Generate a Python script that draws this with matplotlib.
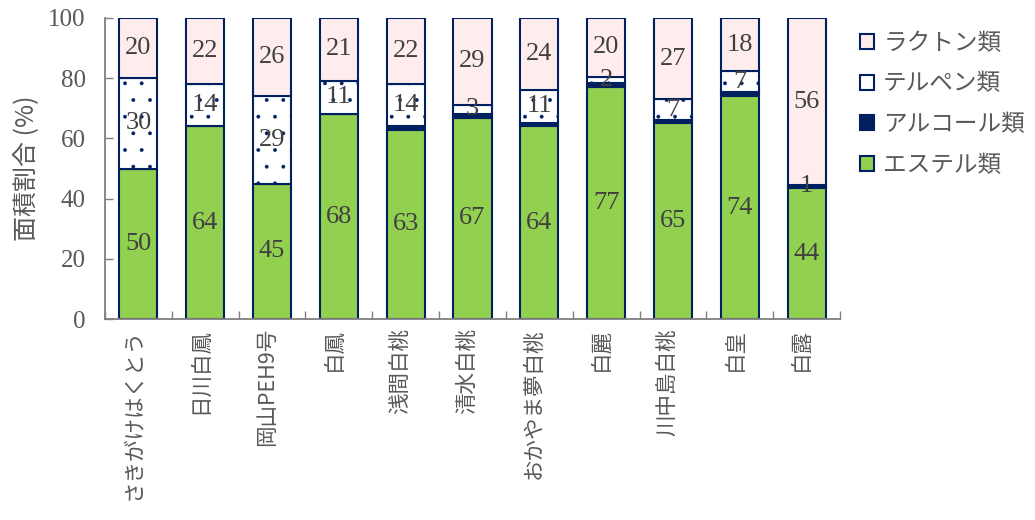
import matplotlib
matplotlib.use("Agg")
import matplotlib.pyplot as plt
from matplotlib.patches import Patch
import numpy as np

# data (area %, stacked bottom to top)
varieties = ['さきがけはくとう', '日川白鳳', '岡山PEH9号', '白鳳', '浅間白桃', '清水白桃',
             'おかやま夢白桃', '白麗', '川中島白桃', '白皇', '白露']
ester = [50, 64, 45, 68, 62.8, 66.8, 64, 77, 65, 74, 43.5]
alcohol = [0, 0, 0, 0.2, 1.2, 1.4, 1.2, 1.4, 1.0, 1.3, 0.4]
terpene = [30, 14, 29, 11, 14, 3, 11, 2, 7, 7, 0.6]
lactone = [20, 22, 26, 20.8, 22, 28.8, 23.8, 19.6, 27, 17.7, 55.5]
series_names = ['エステル類', 'アルコール類', 'テルペン類', 'ラクトン類']

NAVY = '#002060'
GREEN = '#92D050'
PINK = '#FFEDED'
TXT = '#404040'
SERIF = ['Liberation Serif', 'Noto Sans CJK JP']
CJK = ['Noto Sans CJK JP', 'DejaVu Sans']

plt.rcParams['hatch.color'] = '#2F4F8F'
plt.rcParams['hatch.linewidth'] = 0.3

fig = plt.figure(figsize=(10.35, 5.2), dpi=100)
ax = fig.add_axes([0.1014, 0.3865, 0.7102, 0.5789])

x = np.arange(len(varieties))
w = 0.57
ester = np.array(ester)
alcohol = np.array(alcohol)
terpene = np.array(terpene)
lactone = np.array(lactone)

ax.bar(x, ester, w, color=GREEN, edgecolor=NAVY, linewidth=1.5)
ax.bar(x, alcohol, w, bottom=ester, color=NAVY, edgecolor=NAVY, linewidth=1.5)
bottom3 = ester + alcohol
ax.bar(x, terpene, w, bottom=bottom3, color='white', edgecolor=NAVY,
       linewidth=1.5, hatch='.')
bottom4 = bottom3 + terpene
ax.bar(x, lactone, w, bottom=bottom4, color=PINK, edgecolor=NAVY, linewidth=1.5)

# value labels (alcohol is not labelled)
for vals, bots in [(ester, np.zeros(len(x))), (terpene, bottom3), (lactone, bottom4)]:
    for i in range(len(x)):
        if vals[i] <= 0:
            continue
        ax.text(x[i], bots[i] + vals[i] / 2, f'{vals[i]:.0f}', ha='center', va='center',
                fontsize=19, color=TXT, family=SERIF)

ax.set_xlim(-0.5, len(x) - 0.5)
ax.set_ylim(0, 100)
ax.set_yticks(np.arange(0, 101, 20))
ax.set_yticklabels([str(v) for v in range(0, 101, 20)], family=SERIF, fontsize=18, color='#595959')
ax.set_xticks(np.arange(-0.5, len(x), 1.0))
ax.set_xticklabels([])
ax.tick_params(axis='both', direction='in', color='#808080', length=6, width=1)
ax.tick_params(axis='y', pad=14)
for s in ['top', 'right']:
    ax.spines[s].set_visible(False)
for s in ['left', 'bottom']:
    ax.spines[s].set_color('#808080')
    ax.spines[s].set_linewidth(1.3)

# category labels rotated, reading upward
for i, name in enumerate(varieties):
    ax.text(x[i] - 0.08, -3, name, rotation=90, ha='center', va='top', fontsize=15.5,
            color='#595959', family=CJK, transform=ax.transData, clip_on=False)

ax.set_ylabel('面積割合 (%)', family=CJK, fontsize=18, color='#595959', labelpad=6)

handles = [Patch(facecolor=PINK, edgecolor=NAVY, linewidth=1.5),
           Patch(facecolor='white', edgecolor=NAVY, linewidth=1.5),
           Patch(facecolor=NAVY, edgecolor=NAVY, linewidth=1.5),
           Patch(facecolor=GREEN, edgecolor=NAVY, linewidth=1.5)]
fig.legend(handles, series_names[::-1], loc='upper left', bbox_to_anchor=(0.81, 0.98),
           frameon=False, prop={'family': CJK, 'size': 17}, labelcolor='#595959',
           handlelength=0.6, handleheight=0.6, handletextpad=0.4, labelspacing=0.75)

fig.savefig('out.png', dpi=100)
